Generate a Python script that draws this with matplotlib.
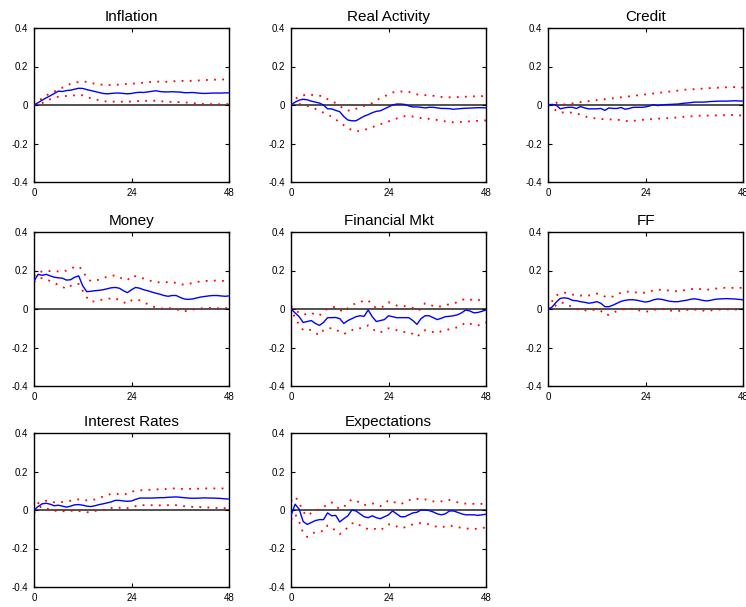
import matplotlib
matplotlib.use("Agg")
import matplotlib.pyplot as plt
import numpy as np

plt.rcParams['font.family'] = ['Liberation Sans', 'DejaVu Sans']

horizon = list(range(49))
titles = ["Inflation", "Real Activity", "Credit", "Money", "Financial Mkt", "FF",
          "Interest Rates", "Expectations"]
x_ticks = [0, 24, 48]
y_ticks = [-0.4, -0.2, 0, 0.2, 0.4]
y_tick_labels = ["-0.4", "-0.2", "0", "0.2", "0.4"]

inflation_mid = [0.0, 0.012, 0.025, 0.037, 0.048, 0.06, 0.072, 0.07, 0.075, 0.077, 0.082, 0.087, 0.086,
                 0.08, 0.075, 0.07, 0.065, 0.06, 0.058, 0.06, 0.062, 0.062, 0.06, 0.058, 0.06, 0.064,
                 0.066, 0.065, 0.068, 0.071, 0.074, 0.07, 0.068, 0.068, 0.069, 0.068, 0.067, 0.064,
                 0.064, 0.065, 0.063, 0.061, 0.06, 0.061, 0.062, 0.062, 0.062, 0.063, 0.063]
inflation_hi = [0.0, 0.02, 0.035, 0.05, 0.06, 0.07, 0.08, 0.09, 0.1, 0.11, 0.115, 0.12, 0.122, 0.12,
                0.115, 0.11, 0.107, 0.105, 0.104, 0.104, 0.105, 0.106, 0.108, 0.11, 0.11, 0.112, 0.114,
                0.116, 0.118, 0.12, 0.122, 0.121, 0.12, 0.121, 0.123, 0.124, 0.125, 0.125, 0.125,
                0.126, 0.127, 0.128, 0.13, 0.13, 0.131, 0.132, 0.132, 0.133, 0.133]
inflation_lo = [0.0, 0.003, 0.01, 0.02, 0.03, 0.038, 0.043, 0.045, 0.047, 0.049, 0.05, 0.052, 0.05,
                0.042, 0.035, 0.03, 0.025, 0.02, 0.018, 0.018, 0.017, 0.017, 0.017, 0.017, 0.018,
                0.02, 0.02, 0.021, 0.022, 0.022, 0.022, 0.02, 0.018, 0.017, 0.016, 0.015, 0.015,
                0.014, 0.012, 0.01, 0.008, 0.006, 0.005, 0.005, 0.004, 0.004, 0.004, 0.005, 0.005]

real_mid = [0.0, 0.015, 0.025, 0.03, 0.027, 0.02, 0.015, 0.01, 0.0, -0.02, -0.02, -0.028, -0.035,
            -0.06, -0.078, -0.082, -0.082, -0.07, -0.058, -0.05, -0.04, -0.033, -0.03, -0.02, -0.01,
            0.0, 0.005, 0.005, 0.003, -0.005, -0.01, -0.01, -0.012, -0.015, -0.012, -0.012, -0.015,
            -0.018, -0.018, -0.019, -0.022, -0.02, -0.018, -0.017, -0.016, -0.015, -0.014, -0.014,
            -0.015]
real_hi = [0.0, 0.03, 0.045, 0.05, 0.055, 0.053, 0.05, 0.048, 0.045, 0.03, 0.02, 0.01, -0.005,
           -0.02, -0.028, -0.03, -0.02, -0.012, -0.005, 0.003, 0.01, 0.025, 0.035, 0.045, 0.055,
           0.065, 0.068, 0.07, 0.069, 0.068, 0.06, 0.055, 0.053, 0.051, 0.05, 0.048, 0.045, 0.042,
           0.04, 0.04, 0.04, 0.041, 0.042, 0.043, 0.044, 0.045, 0.046, 0.046, 0.047]
real_lo = [0.0, 0.003, 0.005, 0.0, -0.005, -0.012, -0.02, -0.03, -0.04, -0.05, -0.06, -0.075, -0.09,
           -0.105, -0.12, -0.13, -0.137, -0.135, -0.13, -0.122, -0.115, -0.108, -0.1, -0.092, -0.085,
           -0.078, -0.07, -0.064, -0.058, -0.058, -0.06, -0.064, -0.068, -0.07, -0.072, -0.075,
           -0.078, -0.082, -0.085, -0.088, -0.09, -0.089, -0.088, -0.087, -0.085, -0.084, -0.082,
           -0.081, -0.08]

credit_mid = [0.0, 0.003, 0.0, -0.02, -0.015, -0.012, -0.012, -0.018, -0.008, -0.015, -0.02, -0.02,
              -0.02, -0.018, -0.028, -0.015, -0.018, -0.018, -0.013, -0.022, -0.018, -0.012, -0.012,
              -0.012, -0.01, -0.005, 0.002, -0.003, 0.0, 0.002, 0.003, 0.004, 0.005, 0.008, 0.01,
              0.012, 0.015, 0.015, 0.015, 0.016, 0.018, 0.019, 0.02, 0.02, 0.02, 0.021, 0.022,
              0.021, 0.02]
credit_hi = [0.0, 0.01, 0.012, 0.005, 0.003, 0.005, 0.008, 0.012, 0.015, 0.018, 0.02, 0.022, 0.025,
             0.028, 0.03, 0.032, 0.035, 0.038, 0.04, 0.042, 0.045, 0.048, 0.05, 0.052, 0.055, 0.058,
             0.06, 0.063, 0.065, 0.068, 0.07, 0.072, 0.075, 0.078, 0.08, 0.081, 0.082, 0.084, 0.085,
             0.087, 0.088, 0.089, 0.09, 0.091, 0.092, 0.093, 0.093, 0.092, 0.09]
credit_lo = [0.0, -0.01, -0.03, -0.04, -0.038, -0.038, -0.04, -0.045, -0.05, -0.058, -0.065, -0.068,
             -0.07, -0.072, -0.075, -0.075, -0.075, -0.077, -0.078, -0.082, -0.085, -0.082, -0.08,
             -0.078, -0.075, -0.074, -0.072, -0.071, -0.07, -0.069, -0.068, -0.066, -0.065, -0.062,
             -0.06, -0.059, -0.058, -0.056, -0.055, -0.055, -0.055, -0.054, -0.054, -0.053,
             -0.053, -0.052, -0.052, -0.054, -0.055]

money_mid = [0.145, 0.18, 0.175, 0.18, 0.172, 0.165, 0.162, 0.16, 0.15, 0.152, 0.165, 0.172, 0.12,
             0.09, 0.092, 0.095, 0.097, 0.1, 0.105, 0.11, 0.112, 0.108, 0.095, 0.085, 0.1, 0.112,
             0.108, 0.1, 0.095, 0.088, 0.082, 0.077, 0.07, 0.066, 0.07, 0.07, 0.06, 0.052, 0.05,
             0.052, 0.057, 0.062, 0.065, 0.068, 0.07, 0.07, 0.068, 0.066, 0.068]
money_hi = [0.17, 0.19, 0.195, 0.197, 0.197, 0.197, 0.195, 0.195, 0.2, 0.21, 0.218, 0.222, 0.2, 0.16,
            0.145, 0.148, 0.152, 0.16, 0.168, 0.172, 0.175, 0.165, 0.155, 0.15, 0.172, 0.17, 0.165,
            0.158, 0.15, 0.145, 0.14, 0.138, 0.138, 0.14, 0.14, 0.135, 0.128, 0.127, 0.13, 0.135,
            0.14, 0.143, 0.145, 0.147, 0.148, 0.147, 0.146, 0.146, 0.147]
money_lo = [0.14, 0.16, 0.16, 0.155, 0.145, 0.135, 0.125, 0.115, 0.105, 0.12, 0.13, 0.13, 0.095, 0.06,
            0.038, 0.04, 0.045, 0.05, 0.053, 0.055, 0.057, 0.045, 0.035, 0.028, 0.045, 0.05, 0.045,
            0.035, 0.025, 0.015, 0.008, 0.003, 0.002, 0.003, 0.005, 0.0, -0.01, -0.012, -0.008,
            -0.003, 0.0, 0.003, 0.005, 0.006, 0.005, 0.004, 0.003, 0.004, 0.006]

finmkt_mid = [0.0, -0.02, -0.04, -0.07, -0.065, -0.06, -0.075, -0.085, -0.07, -0.045, -0.045, -0.044,
              -0.05, -0.075, -0.06, -0.05, -0.04, -0.035, -0.038, -0.005, -0.04, -0.065, -0.06,
              -0.055, -0.035, -0.04, -0.045, -0.045, -0.045, -0.045, -0.06, -0.08, -0.05, -0.035,
              -0.035, -0.045, -0.055, -0.048, -0.04, -0.038, -0.035, -0.03, -0.02, -0.005, -0.01,
              -0.02, -0.018, -0.012, -0.005]
finmkt_hi = [0.015, -0.005, -0.02, -0.03, -0.025, -0.02, -0.03, -0.035, -0.01, 0.0, 0.01, 0.01,
             -0.005, -0.015, 0.005, 0.02, 0.03, 0.035, 0.045, 0.045, 0.02, 0.005, 0.008, 0.015,
             0.035, 0.028, 0.018, 0.015, 0.015, 0.012, 0.005, -0.01, 0.0, 0.03, 0.025, 0.015,
             0.01, 0.015, 0.02, 0.025, 0.03, 0.035, 0.045, 0.055, 0.05, 0.045, 0.045, 0.05, 0.055]
finmkt_lo = [0.01, -0.05, -0.08, -0.11, -0.105, -0.11, -0.125, -0.135, -0.11, -0.1, -0.1, -0.105,
             -0.12, -0.13, -0.12, -0.11, -0.1, -0.1, -0.095, -0.085, -0.1, -0.12, -0.12, -0.115,
             -0.1, -0.105, -0.11, -0.115, -0.12, -0.12, -0.13, -0.145, -0.125, -0.11, -0.115,
             -0.12, -0.125, -0.115, -0.11, -0.105, -0.1, -0.095, -0.085, -0.07, -0.075, -0.085,
             -0.085, -0.08, -0.07]

ff_mid = [0.0, 0.01, 0.035, 0.055, 0.058, 0.055, 0.045, 0.043, 0.038, 0.035, 0.03, 0.033, 0.038,
          0.03, 0.012, 0.012, 0.02, 0.03, 0.04, 0.045, 0.048, 0.048, 0.045, 0.04, 0.036, 0.04,
          0.048, 0.052, 0.05, 0.045, 0.04, 0.038, 0.038, 0.042, 0.045, 0.05, 0.053, 0.05, 0.045,
          0.042, 0.045, 0.05, 0.052, 0.053, 0.054, 0.053, 0.052, 0.05, 0.048]
ff_hi = [0.0, 0.04, 0.07, 0.08, 0.085, 0.08, 0.075, 0.072, 0.07, 0.068, 0.07, 0.075, 0.08, 0.075,
         0.065, 0.06, 0.065, 0.075, 0.085, 0.09, 0.09, 0.088, 0.085, 0.083, 0.085, 0.09, 0.098, 0.1,
         0.1, 0.098, 0.095, 0.093, 0.092, 0.095, 0.1, 0.103, 0.105, 0.105, 0.102, 0.1, 0.102,
         0.105, 0.108, 0.11, 0.11, 0.11, 0.11, 0.11, 0.11]
ff_lo = [0.0, 0.0, 0.02, 0.035, 0.03, 0.02, 0.01, 0.0, -0.005, -0.008, -0.005, -0.005, -0.003, -0.01,
         -0.03, -0.03, -0.02, -0.01, -0.003, 0.0, 0.002, 0.0, -0.005, -0.01, -0.015, -0.01, -0.005,
         0.0, 0.0, -0.003, -0.008, -0.01, -0.01, -0.008, -0.005, -0.003, -0.003, -0.005, -0.008,
         -0.01, -0.008, -0.005, -0.003, -0.002, -0.002, -0.002, -0.003, -0.003, -0.003]

rates_mid = [0.0, 0.018, 0.032, 0.035, 0.03, 0.022, 0.025, 0.02, 0.015, 0.02, 0.027, 0.028, 0.025,
             0.02, 0.018, 0.022, 0.028, 0.032, 0.037, 0.042, 0.05, 0.05, 0.047, 0.045, 0.047, 0.055,
             0.062, 0.062, 0.062, 0.062, 0.063, 0.064, 0.064, 0.066, 0.067, 0.068, 0.066, 0.064,
             0.062, 0.061, 0.061, 0.062, 0.063, 0.062, 0.062, 0.061, 0.06, 0.058, 0.057]
rates_hi = [-0.005, 0.035, 0.045, 0.048, 0.045, 0.04, 0.04, 0.042, 0.045, 0.048, 0.052, 0.055, 0.053,
            0.05, 0.05, 0.055, 0.062, 0.07, 0.078, 0.083, 0.085, 0.082, 0.08, 0.085, 0.095, 0.1,
            0.102, 0.103, 0.104, 0.106, 0.107, 0.108, 0.108, 0.11, 0.112, 0.112, 0.11, 0.11, 0.11,
            0.11, 0.11, 0.111, 0.112, 0.112, 0.112, 0.112, 0.112, 0.112, 0.112]
rates_lo = [-0.015, 0.01, 0.02, 0.01, 0.0, -0.005, -0.003, -0.005, -0.01, -0.005, -0.002, -0.005,
            -0.01, -0.012, -0.01, -0.005, -0.002, 0.0, 0.005, 0.01, 0.015, 0.012, 0.008, 0.01,
            0.015, 0.02, 0.025, 0.025, 0.025, 0.025, 0.024, 0.024, 0.024, 0.025, 0.026, 0.025,
            0.022, 0.02, 0.018, 0.016, 0.015, 0.015, 0.014, 0.013, 0.012, 0.011, 0.01, 0.01, 0.01]

expect_mid = [-0.03, 0.03, 0.005, -0.06, -0.075, -0.065, -0.055, -0.05, -0.05, -0.015, -0.03, -0.028,
              -0.062, -0.045, -0.03, 0.0, -0.005, -0.02, -0.035, -0.04, -0.03, -0.04, -0.045,
              -0.035, -0.025, -0.005, -0.02, -0.035, -0.035, -0.025, -0.015, -0.012, 0.0, 0.0,
              -0.003, -0.01, -0.02, -0.025, -0.02, -0.005, -0.005, -0.012, -0.02, -0.025, -0.025,
              -0.025, -0.028, -0.025, -0.022]
expect_hi = [0.045, 0.07, 0.04, -0.01, -0.03, -0.015, -0.005, 0.005, 0.015, 0.03, 0.04, 0.02, 0.005,
             0.015, 0.04, 0.055, 0.05, 0.035, 0.025, 0.03, 0.035, 0.025, 0.02, 0.035, 0.05, 0.045,
             0.035, 0.03, 0.04, 0.05, 0.06, 0.058, 0.055, 0.055, 0.05, 0.045, 0.042, 0.045, 0.05,
             0.052, 0.045, 0.04, 0.035, 0.033, 0.033, 0.032, 0.03, 0.032, 0.035]
expect_lo = [-0.05, -0.02, -0.06, -0.12, -0.14, -0.125, -0.115, -0.11, -0.11, -0.08, -0.095, -0.105,
             -0.125, -0.11, -0.09, -0.07, -0.065, -0.08, -0.09, -0.1, -0.095, -0.1, -0.105, -0.09,
             -0.075, -0.075, -0.085, -0.095, -0.09, -0.08, -0.075, -0.07, -0.068, -0.07, -0.075,
             -0.082, -0.088, -0.09, -0.085, -0.08, -0.085, -0.09, -0.092, -0.095, -0.098, -0.098,
             -0.097, -0.094, -0.09]

series = [
    (inflation_mid, inflation_hi, inflation_lo),
    (real_mid, real_hi, real_lo),
    (credit_mid, credit_hi, credit_lo),
    (money_mid, money_hi, money_lo),
    (finmkt_mid, finmkt_hi, finmkt_lo),
    (ff_mid, ff_hi, ff_lo),
    (rates_mid, rates_hi, rates_lo),
    (expect_mid, expect_hi, expect_lo),
]

W, H = 746, 607
fig = plt.figure(figsize=(W / 100, H / 100), dpi=100)

col_left = [34, 291, 548]
col_width = 195
row_tops = [28, 232, 433]
row_height = 154

for i, (title, (mid, hi, lo)) in enumerate(zip(titles, series)):
    r, c = divmod(i, 3)
    left = col_left[c] / W
    bottom = 1 - (row_tops[r] + row_height) / H
    ax = fig.add_axes([left, bottom, col_width / W, row_height / H])
    ax.axhline(0, color='#333333', lw=1.2, zorder=1)
    ax.plot(horizon, hi, color='red', lw=1.3, linestyle=(0, (1, 3.5)), zorder=2)
    ax.plot(horizon, lo, color='red', lw=1.3, linestyle=(0, (1, 3.5)), zorder=2)
    ax.plot(horizon, mid, color='blue', lw=1.0, zorder=3)
    ax.set_xlim(0, 48)
    ax.set_ylim(-0.4, 0.4)
    ax.set_xticks(x_ticks)
    ax.set_yticks(y_ticks)
    ax.set_yticklabels(y_tick_labels)
    ax.tick_params(direction='in', top=True, right=True, length=3, width=0.8,
                   labelsize=7, pad=4)
    for s in ax.spines.values():
        s.set_linewidth(1.0)
    ax.set_title(title, fontsize=11, pad=5)

fig.savefig("out.png", dpi=100)
